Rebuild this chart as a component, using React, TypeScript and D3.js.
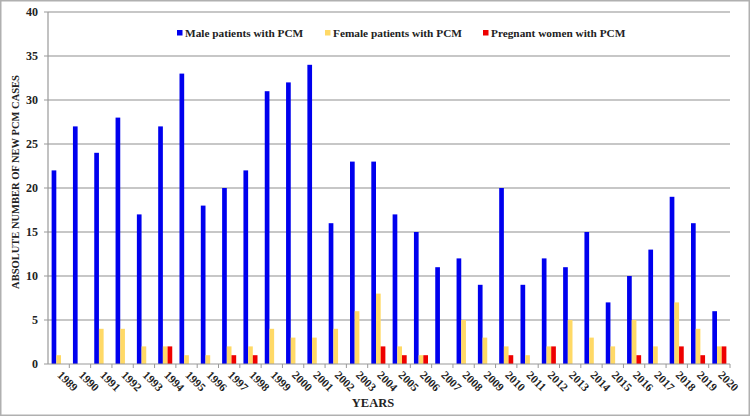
import React from "react";
import * as d3 from "d3";

const years = ["1989","1990","1991","1992","1993","1994","1995","1996","1997","1998","1999","2000","2001","2002","2003","2004","2005","2006","2007","2008","2009","2010","2011","2012","2013","2014","2015","2016","2017","2018","2019","2020"];
const male = [22,27,24,28,17,27,33,18,20,22,31,32,34,16,23,23,17,15,11,12,9,20,9,12,11,15,7,10,13,19,16,6];
const female = [1,0,4,4,2,2,1,1,2,2,4,3,3,4,6,8,2,1,0,5,3,2,1,2,5,3,2,5,2,7,4,2];
const pregnant = [0,0,0,0,0,2,0,0,1,1,0,0,0,0,0,2,1,1,0,0,0,1,0,2,0,0,0,1,0,2,1,2];
const seriesNames = ["Male patients with PCM","Female patients with PCM","Pregnant women with PCM"];
const seriesColors = ["#0000ee","#ffd966","#ee0000"];
const yTicks = [0,5,10,15,20,25,30,35,40];

const W = 750, H = 418;
const left = 48, right = 730, top = 12, bottom = 364;
const fontStyle = { fontFamily: "Liberation Serif, DejaVu Serif, serif", fontWeight: 700 as const };

export default function App() {
  const x = d3.scaleBand<string>().domain(years).range([left, right]).paddingInner(0).paddingOuter(0);
  const y = d3.scaleLinear().domain([0, 40]).range([bottom, top]);
  const bw = x.bandwidth();
  const barW = bw * 0.22;
  const data = [male, female, pregnant];
  return (
    <svg width={W} height={H} style={{ position: "absolute", left: 0, top: 0, background: "#fff" }}>
      <rect x={0.75} y={0.75} width={W - 1.5} height={H - 3.5} fill="#fff" stroke="#b0b0b0" strokeWidth={1.5} />
      {yTicks.map(t => (
        <g key={t}>
          {t > 0 && <line x1={left} x2={right} y1={y(t)} y2={y(t)} stroke="#b4b4b4" strokeWidth={1.5} />}
          <line x1={left - 4} x2={left} y1={y(t)} y2={y(t)} stroke="#999" />
          <text x={left - 10} y={y(t)} dy="0.35em" textAnchor="end" style={fontStyle} fontSize={12} fill="#222">{t}</text>
        </g>
      ))}
      <line x1={left} x2={left} y1={top} y2={bottom} stroke="#999" strokeWidth={1.2} />
      {data.map((vals, si) => (
        <g key={si}>
          {vals.map((v, i) => v > 0 && (
            <rect key={i}
              x={(x(years[i]) as number) + bw / 2 - 1.5 * barW + si * barW}
              y={y(v)} width={barW} height={y(0) - y(v)}
              fill={seriesColors[si]} />
          ))}
        </g>
      ))}
      <line x1={left} x2={right} y1={bottom} y2={bottom} stroke="#999" strokeWidth={1.2} />
      {years.map((yr) => (
        <line key={"t" + yr} x1={(x(yr) as number) + bw} x2={(x(yr) as number) + bw} y1={bottom} y2={bottom + 4} stroke="#999" />
      ))}
      {years.map(yr => {
        const cx = (x(yr) as number) + bw / 2 + 1;
        return (
          <text key={yr} x={cx} y={bottom + 9} transform={`rotate(45 ${cx} ${bottom + 9})`} style={fontStyle} fontSize={11.5} fill="#222" dy="0.35em">{yr}</text>
        );
      })}
      <text x={373} y={407} textAnchor="middle" style={fontStyle} fontSize={12.5} fill="#222">YEARS</text>
      <text transform={`translate(19 ${182}) rotate(-90)`} textAnchor="middle" style={fontStyle} fontSize={10.5} fill="#222">ABSOLUTE NUMBER OF NEW PCM CASES</text>
      {seriesNames.map((n, i) => {
        const lx = [177, 325, 483][i];
        return (
          <g key={n}>
            <rect x={lx} y={30} width={5.5} height={5.5} fill={seriesColors[i]} />
            <text x={lx + 8} y={33} dy="0.35em" style={fontStyle} fontSize={11.3} fill="#222">{n}</text>
          </g>
        );
      })}
    </svg>
  );
}
